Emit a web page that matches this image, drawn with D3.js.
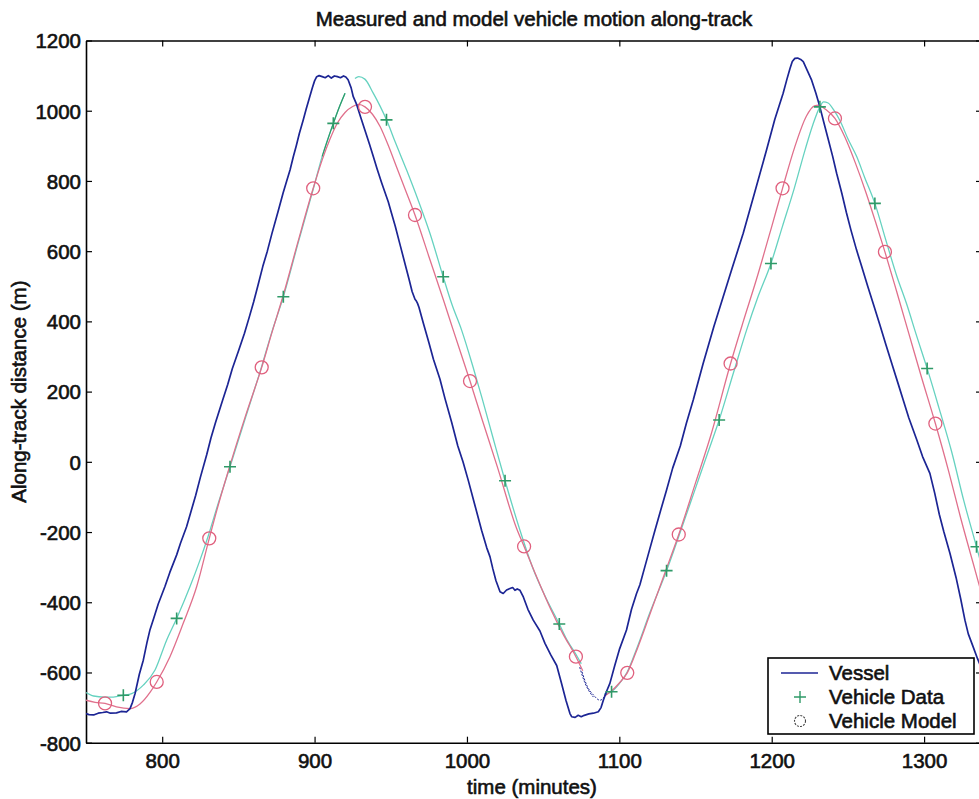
<!DOCTYPE html>
<html>
<head>
<meta charset="utf-8">
<script src="https://cdn.jsdelivr.net/npm/d3@7/dist/d3.min.js"></script>
<style>
	body { margin: 0; background: #fff; }
	svg text { font-family: "Liberation Sans", Arial, Helvetica, sans-serif; fill: #111; stroke: #111; stroke-width: 0.6px; }
</style>
</head>
<body>
<svg id="chart" width="979" height="799"></svg>
<script>
const title = 'Measured and model vehicle motion along-track';
const xLabel = 'time (minutes)';
const yLabel = 'Along-track distance (m)';
const xTicks = [800, 900, 1000, 1100, 1200, 1300];
const yTicks = [-800, -600, -400, -200, 0, 200, 400, 600, 800, 1000, 1200];
const legendNames = ['Vessel', 'Vehicle Data', 'Vehicle Model'];

// vessel track [minutes, metres]
const vessel = [
	[750,-717],[752,-720],[755,-721],[758,-716],[761,-714],[763.5,-712],[766,-716],[770,-715],[773,-711],[776.6,-712],
	[778.9,-703],[780.5,-685],[782.2,-660],[785,-605],[787.6,-565],[790,-515],[792,-478],[794.5,-445],[797.4,-405],
	[801.8,-355],[805,-315],[809.5,-265],[812,-232],[816,-185],[819,-140],[822,-95],[825,-45],[829.2,20],
	[832,68],[835,112],[839.7,176],[843,220],[846,265],[850,315],[854,366],[857,410],[860,455],[863,505],[866,556],
	[869,600],[872,650],[876,712],[879.3,765],[881.7,800],[883.9,831],[886,868],[888,900],[890,935],[892.6,974],
	[894.5,1005],[896.5,1035],[898.5,1065],[900,1085],[901.4,1097],[903,1100],[905,1097],[907,1094],[909,1100],
	[911,1093],[913,1099],[915,1097],[917,1094],[919,1099],[920.5,1096],[922,1088],[924,1065],[925.4,1040],
	[927.6,1018],[930,985],[933,945],[936,905],[938.5,870],[941,835],[944,795],[946,770],[948.4,740],[950.5,708],
	[953,670],[956,620],[959.3,565],[962,520],[964,485],[965.9,463],[966.8,458],[967.5,452],[968.5,440],[971.3,396],
	[975,340],[978,292],[982.3,235],[985.6,180],[990,112],[994,45],[997.4,0],[1001,-55],[1005,-120],[1009.6,-195],
	[1013,-245],[1015.1,-270],[1017,-305],[1019,-338],[1021.7,-370],[1023.8,-375],[1026,-365],[1028.2,-361],
	[1030,-358],[1031.5,-366],[1033,-362],[1034.8,-366],[1037,-385],[1040,-420],[1043.5,-451],[1047.9,-482],
	[1051.2,-517],[1055,-550],[1058.9,-580],[1062,-630],[1065,-680],[1067.6,-717],[1068.7,-726],[1071,-728],
	[1073,-722],[1075,-726],[1077,-722],[1080,-718],[1083,-716],[1086.2,-712],[1088,-700],[1089.5,-679],
	[1091.5,-655],[1093.8,-631],[1097,-580],[1100,-535],[1104.7,-479],[1108,-420],[1111.3,-375],[1113.5,-350],
	[1117,-295],[1120,-248],[1123.4,-195],[1127,-140],[1131,-80],[1135,-18],[1140,45],[1144,110],[1148.5,176],
	[1155,280],[1162,385],[1168,468],[1174,551],[1181.3,651],[1189,770],[1196.6,888],[1202,975],[1207.5,1050],
	[1210,1090],[1212,1120],[1213.5,1140],[1215.2,1149],[1217,1150],[1219,1146],[1220.7,1140],[1223,1118],
	[1226.2,1087],[1229,1050],[1231.6,1011],[1234,970],[1237,920],[1240,870],[1242.6,822],[1246,765],[1249,710],
	[1252,660],[1255.7,603],[1259,557],[1263,500],[1267,445],[1271,390],[1275,333],[1279,277],[1283,222],
	[1286.3,176],[1290,125],[1295,65],[1299,15],[1303.8,-33],[1307,-90],[1310,-150],[1313,-200],[1317,-261],
	[1321,-330],[1324,-390],[1326.8,-451],[1329,-490],[1332.2,-527],[1335,-560],[1338,-592]
];

// vehicle data track, null = gap in the record
const vehicleData = [
	[750,-657],[755,-667],[762,-670],[768,-670],[774.5,-665],[780,-660],[787.6,-636],[795.3,-593],[802.9,-508],
	[809.5,-446],[818.2,-356],[824.8,-280],[830,-214],[837,-115],[844.5,-14],[855,130],[865.3,272],[872,370],
	[879.5,470],[889,620],[899,775],[905,870],[912.3,964],[916,1008],[920,1050],[923,null],[926.5,1092],[929,1097],
	[933,1090],[938.5,1050],[943,1013],[947.2,974],[953,910],[960.4,831],[968,745],[975.7,651],[984.4,527],[990,450],
	[996.5,375],[1004,270],[1010,180],[1017,70],[1025,-54],[1034.8,-195],[1043,-300],[1051,-380],[1060.6,-462],
	[1066,-510],[1071.5,-548],[1075,-575],[1080,null],[1090,-662],[1094.9,-655],[1100,-632],[1105,-600],[1112,-525],
	[1120,-430],[1131,-310],[1140,-200],[1150,-75],[1158,25],[1165.5,119],[1175,255],[1183.5,375],[1191,470],
	[1199.5,565],[1207,670],[1214.8,779],[1222,890],[1227,960],[1231.6,1011],[1234,1025],[1237,1022],[1241,1000],
	[1245,970],[1250,920],[1255.7,870],[1261,810],[1267.7,736],[1275,630],[1282,530],[1288.5,450],[1295,360],
	[1302,266],[1310,150],[1318,30],[1326,-110],[1334.4,-242],[1338,-300]
];

// short green piece of the data record just before the first peak
const dataRiseEnd = [[905,870],[912.3,964],[916,1008],[920,1050]];

// vehicle model track, null = gap
const vehicleModel = [
	[750,-679],[756,-685],[762.5,-688],[770,-698],[778.9,-703],[785.4,-690],[792,-657],[796.4,-627],[805.1,-555],
	[813.8,-460],[822.6,-356],[830.9,-218],[837,-120],[844.5,-10],[855,135],[865.3,269],[872,368],[879.5,475],
	[889,625],[899.1,779],[905,860],[910,918],[915,965],[920,995],[925,1012],[929,1018],[933.1,1011],[938,990],
	[943,955],[948,905],[953.8,840],[960,770],[965.9,703],[975,585],[985,455],[991,375],[1002,230],[1010,120],
	[1020,-15],[1032.6,-190],[1037.5,-241],[1045,-320],[1055,-420],[1063,-490],[1071.5,-555],[1076,-595],[1080,null],
	[1090,-668],[1095,-652],[1100,-630],[1105.2,-601],[1112,-530],[1120,-435],[1130,-315],[1139,-207],[1150,-60],
	[1160,75],[1173,280],[1181,395],[1190,520],[1200,670],[1207.1,779],[1215,895],[1222.8,985],[1228,1014],
	[1231,1016],[1235,1005],[1241.5,978],[1248,925],[1255,850],[1262,765],[1268,685],[1274.3,598],[1282,485],
	[1290,365],[1298,245],[1307.4,109],[1316,-25],[1324,-160],[1332.2,-289],[1338,-380]
];

// thin dotted joins across the gap near the trough
const gapJoinA = [[1074,-585],[1077,-625],[1080,-652],[1083,-670]];
const gapJoinB = [[1075.5,-598],[1079,-640],[1083,-664],[1087.3,-679],[1091.6,-660]];

// sampled markers
const dataMarks = [
	[774.5,-665],[809.5,-446],[844.5,-14],[879.5,470],[912.3,964],[947.2,974],[984.4,527],[1025,-54],[1060.6,-462],
	[1094.9,-655],[1131,-310],[1165.5,119],[1199.5,565],[1231.6,1011],[1267.7,736],[1302,266],[1334.4,-242]
];
const modelMarks = [
	[762.5,-688],[796.4,-627],[830.9,-218],[865.3,269],[899.1,779],[933.1,1011],[965.9,703],[1002,230],[1037.5,-241],
	[1071.5,-555],[1105.2,-601],[1139,-207],[1173,280],[1207.1,779],[1241.5,978],[1274.3,598],[1307.4,109]
];

const colors = {
	vessel: '#1c2594',
	dataLine: '#66d2c0',
	dataMark: '#2f9a68',
	modelLine: '#e0708c',
	modelMark: '#e0607e'
};

const svg = d3.select('#chart');
const plot = { left: 86, right: 982, top: 40.5, bottom: 742.7 };

const x = d3.scaleLinear().domain([750, 1338]).range([plot.left, plot.right]);
const y = d3.scaleLinear().domain([-800, 1200]).range([plot.bottom, plot.top]);

svg.append('defs').append('clipPath')
	.attr('id', 'clip')
	.append('rect')
	.attr('x', plot.left)
	.attr('y', plot.top)
	.attr('width', plot.right - plot.left)
	.attr('height', plot.bottom - plot.top);

const fontSize = '20.5px';
const plain = d => String(d);

// axes, ticks drawn inward like matlab
const xAxis = svg.append('g')
	.attr('transform', `translate(0,${plot.bottom})`)
	.call(d3.axisBottom(x).tickValues(xTicks).tickFormat(plain).tickSize(-6).tickSizeOuter(0).tickPadding(11));
const xTop = svg.append('g')
	.attr('transform', `translate(0,${plot.top})`)
	.call(d3.axisTop(x).tickValues(xTicks).tickSize(-6).tickSizeOuter(0).tickFormat(''));
const yAxis = svg.append('g')
	.attr('transform', `translate(${plot.left},0)`)
	.call(d3.axisLeft(y).tickValues(yTicks).tickFormat(plain).tickSize(-6).tickSizeOuter(0).tickPadding(5));
const yRight = svg.append('g')
	.attr('transform', `translate(${plot.right},0)`)
	.call(d3.axisRight(y).tickValues(yTicks).tickSize(-6).tickSizeOuter(0).tickFormat(''));

[xAxis, xTop, yAxis, yRight].forEach(g => {
	g.select('.domain').attr('stroke', '#000').attr('stroke-width', 1.6);
	g.selectAll('.tick line').attr('stroke', '#000').attr('stroke-width', 1.2);
	g.selectAll('.tick text').style('font-size', fontSize);
});
yAxis.selectAll('.tick text').attr('dy', '0.36em');

const lines = svg.append('g').attr('clip-path', 'url(#clip)');
const line = d3.line()
	.defined(d => d[1] !== null)
	.x(d => x(d[0]))
	.y(d => y(d[1]))
	.curve(d3.curveMonotoneX);

lines.append('path')
	.datum(vehicleData)
	.attr('fill', 'none')
	.attr('stroke', colors.dataLine)
	.attr('stroke-width', 1.3)
	.attr('d', line);

lines.append('path')
	.datum(dataRiseEnd)
	.attr('fill', 'none')
	.attr('stroke', colors.dataMark)
	.attr('stroke-width', 1.2)
	.attr('d', line);

lines.append('path')
	.datum(vehicleModel)
	.attr('fill', 'none')
	.attr('stroke', colors.modelLine)
	.attr('stroke-width', 1.3)
	.attr('d', line);

lines.selectAll('.gapjoin')
	.data([gapJoinA, gapJoinB])
	.enter().append('path')
	.attr('class', 'gapjoin')
	.attr('fill', 'none')
	.attr('stroke', colors.vessel)
	.attr('stroke-width', 1)
	.attr('stroke-dasharray', '2,1.5')
	.attr('d', line);

lines.append('path')
	.datum(vessel)
	.attr('fill', 'none')
	.attr('stroke', colors.vessel)
	.attr('stroke-width', 1.7)
	.attr('stroke-linejoin', 'round')
	.attr('d', d3.line().x(d => x(d[0])).y(d => y(d[1])));

lines.selectAll('.model-mark')
	.data(modelMarks)
	.enter().append('circle')
	.attr('class', 'model-mark')
	.attr('cx', d => x(d[0]))
	.attr('cy', d => y(d[1]))
	.attr('r', 6.5)
	.attr('fill', 'none')
	.attr('stroke', colors.modelMark)
	.attr('stroke-width', 1.3);

const plus = (sel, s) => sel.attr('d', d => {
	const cx = x(d[0]), cy = y(d[1]);
	return `M${cx - s},${cy}H${cx + s}M${cx},${cy - s}V${cy + s}`;
});

lines.selectAll('.data-mark')
	.data(dataMarks)
	.enter().append('path')
	.attr('class', 'data-mark')
	.attr('fill', 'none')
	.attr('stroke', colors.dataMark)
	.attr('stroke-width', 1.6)
	.call(plus, 6);

// titles
svg.append('text')
	.attr('x', (plot.left + plot.right) / 2)
	.attr('y', 25.5)
	.attr('text-anchor', 'middle')
	.style('font-size', fontSize)
	.text(title);

svg.append('text')
	.attr('x', 532)
	.attr('y', 794)
	.attr('text-anchor', 'middle')
	.style('font-size', fontSize)
	.text(xLabel);

svg.append('text')
	.attr('transform', `translate(26,${(plot.top + plot.bottom) / 2}) rotate(-90)`)
	.attr('text-anchor', 'middle')
	.style('font-size', fontSize)
	.text(yLabel);

// legend
const legend = svg.append('g');
legend.append('rect')
	.attr('x', 768)
	.attr('y', 658)
	.attr('width', 206)
	.attr('height', 76)
	.attr('fill', '#fff')
	.attr('stroke', '#000')
	.attr('stroke-width', 1.6);

const rowY = [673, 697, 721];
legend.append('line')
	.attr('x1', 781).attr('x2', 818)
	.attr('y1', rowY[0]).attr('y2', rowY[0])
	.attr('stroke', colors.vessel)
	.attr('stroke-width', 1.7);
legend.append('path')
	.attr('stroke', colors.dataMark)
	.attr('stroke-width', 1.4)
	.attr('d', `M794,${rowY[1]}H806M800,${rowY[1] - 6}V${rowY[1] + 6}`);
legend.append('circle')
	.attr('cx', 800)
	.attr('cy', rowY[2])
	.attr('r', 5.5)
	.attr('fill', 'none')
	.attr('stroke', '#444')
	.attr('stroke-width', 1.1)
	.attr('stroke-dasharray', '2,1.2');

legend.selectAll('.legend-label')
	.data(legendNames)
	.enter().append('text')
	.attr('class', 'legend-label')
	.attr('x', 829)
	.attr('y', (d, i) => rowY[i])
	.attr('dy', '0.36em')
	.style('font-size', fontSize)
	.text(d => d);
</script>
</body>
</html>
